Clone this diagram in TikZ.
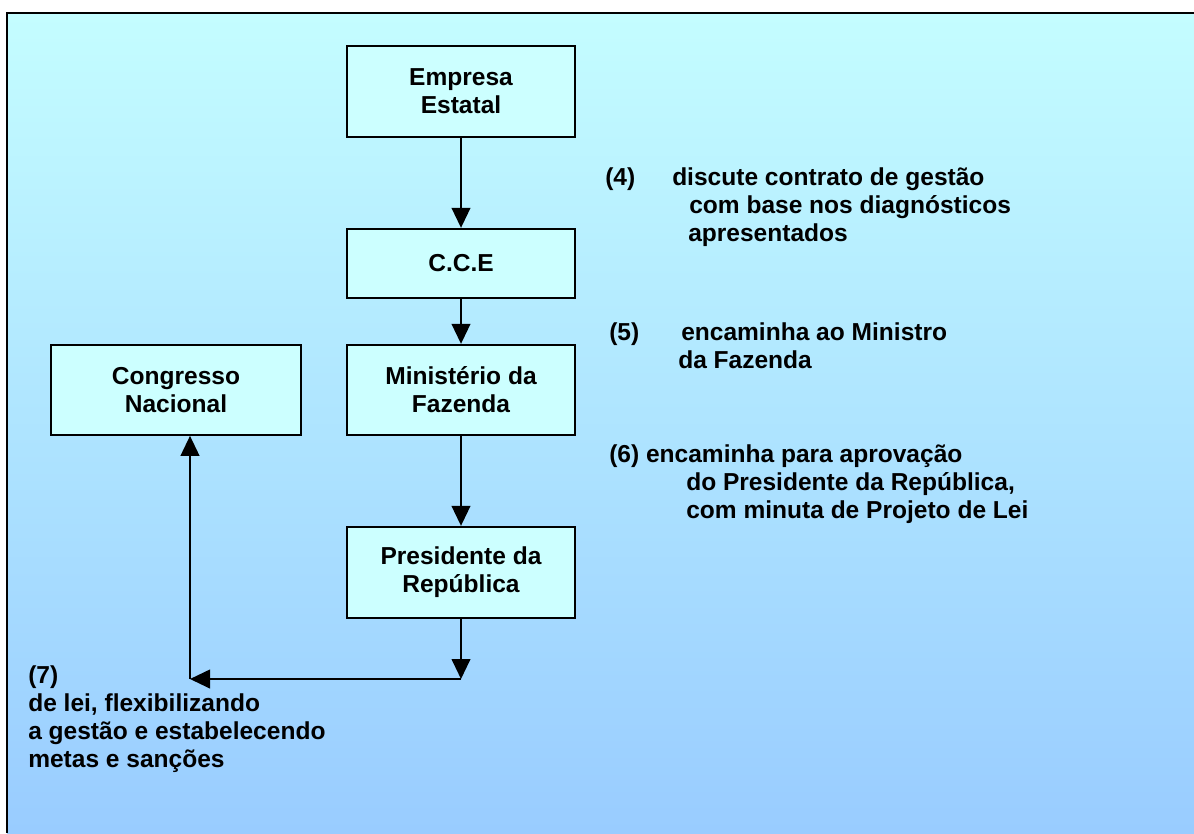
\documentclass[tikz,border=0pt]{standalone}
\usepackage{fontspec}
\setmainfont{Liberation Sans}
\usepackage{tikz}
\usetikzlibrary{arrows.meta,positioning}
\definecolor{bgtop}{RGB}{196,253,255}
\definecolor{bgbot}{RGB}{153,204,255}
\definecolor{boxfill}{RGB}{204,255,255}
\newcommand{\txtfont}{\fontsize{18.4}{21}\selectfont\bfseries}

\begin{document}
\begin{tikzpicture}[x=0.75pt,y=-0.75pt,
	box/.style={draw,line width=1.5pt,fill=boxfill,minimum width=171pt,minimum height=68pt,align=center,inner sep=0pt,font=\txtfont},
	flow/.style={line width=1.5pt,-{Triangle[width=14pt,length=15pt]}},
	note/.style={anchor=base west,align=left,inner sep=0pt,font=\txtfont}]
	\useasboundingbox (0,0) rectangle (1194,833);
	\shade[top color=bgtop,bottom color=bgbot] (7,13) rectangle (1194,833);
	\draw[line width=1.5pt] (7,833) |- (1194,13);

	\node[box] (emp) at (461,91.5) {Empresa\\Estatal};
	\node[box,minimum height=51.75pt] (cce) [below =67.5pt of emp] {C.C.E};
	\node[box,minimum height=67.5pt] (min) [below =33.75pt of cce] {Ministério da\\Fazenda};
	\node[box] (pres) [below =67.5pt of min] {Presidente da\\República};
	\node[box,minimum width=187.5pt,minimum height=67.5pt] (cong) [left =33pt of min] {Congresso\\Nacional};

	\coordinate (turnR) at (461,679);
	\coordinate (turnL) at (190,679);
	\draw[flow] (emp) -- (cce);
	\draw[flow] (cce) -- (min);
	\draw[flow] (min) -- (pres);
	\draw[flow] (pres) -- (turnR);
	\draw[flow] (turnR) -- (turnL);
	\draw[flow] (turnL) -- (turnL |- cong.south);

	\node[note] (n4) at (605,241) {\makebox[50.25pt][l]{(4)}discute contrato de gestão\\\hspace*{63pt}com base nos diagnósticos\\\hspace*{62.25pt}apresentados};
	\node[note] (n5) at (609,368) {\makebox[54pt][l]{(5)}encaminha ao Ministro\\\hspace*{51.75pt}da Fazenda};
	\node[note] (n6) at (609,518) {(6) encaminha para aprovação\\\hspace*{57.75pt}do Presidente da República,\\\hspace*{57.75pt}com minuta de Projeto de Lei};
	\node[note] (n7) at (28,767) {(7)\\de lei, flexibilizando\\a gestão e estabelecendo\\metas e sanções};
\end{tikzpicture}
\end{document}
